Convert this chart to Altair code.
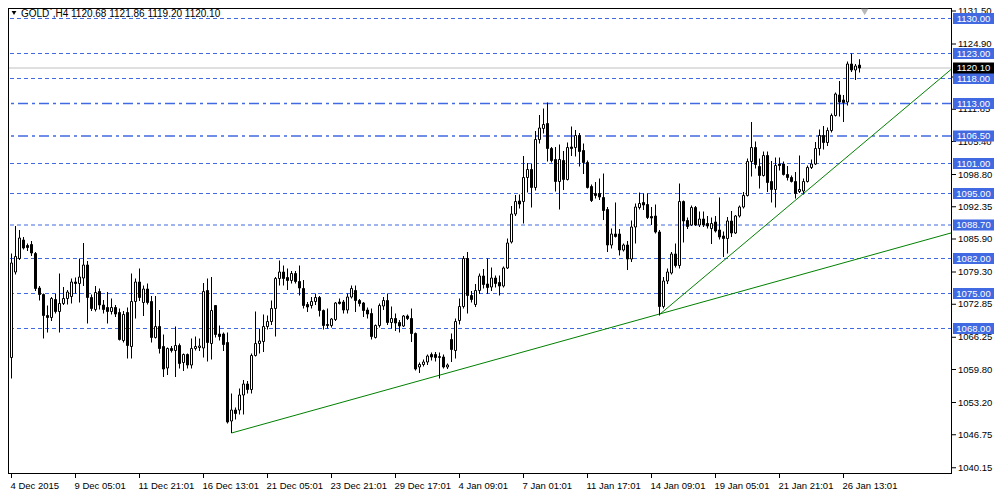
import altair as alt
import pandas as pd

# ---------------- data ----------------
opens = [
    1062.2, 1079.3, 1082.0, 1085.7, 1084.6, 1084.8, 1083.0, 1076.1, 1074.8, 1070.6,
    1070.2, 1073.8, 1071.4, 1073.0, 1074.0, 1074.4, 1077.3, 1077.0, 1078.1, 1080.7,
    1074.2, 1071.8, 1075.4, 1072.7, 1072.2, 1071.4, 1072.2, 1071.2, 1065.6, 1071.2,
    1064.4, 1073.4, 1077.3, 1073.2, 1075.9, 1073.4, 1066.2, 1068.4, 1064.4, 1060.1,
    1064.0, 1063.6, 1064.6, 1061.2, 1062.8, 1060.7, 1064.0, 1064.2, 1064.1, 1075.6,
    1065.0, 1072.6, 1066.9, 1066.9, 1065.2, 1049.5, 1051.7, 1051.7, 1054.7, 1056.9,
    1055.8, 1062.6, 1065.0, 1065.4, 1068.4, 1069.4, 1072.0, 1078.0, 1079.3, 1078.2,
    1077.6, 1079.0, 1077.4, 1076.0, 1072.8, 1072.6, 1073.4, 1074.2, 1071.6, 1068.8,
    1068.6, 1069.8, 1073.3, 1073.3, 1071.7, 1074.3, 1075.6, 1073.6, 1073.1, 1071.7,
    1071.0, 1066.2, 1068.6, 1072.5, 1073.6, 1069.2, 1070.0, 1069.2, 1068.5, 1070.5,
    1070.0, 1067.0, 1060.3, 1060.8, 1061.3, 1062.8, 1062.8, 1062.2, 1062.3, 1060.3,
    1065.8, 1063.6, 1069.6, 1072.4, 1082.0, 1074.6, 1072.8, 1075.6, 1078.5, 1076.9,
    1076.3, 1078.1, 1077.2, 1076.5, 1080.1, 1085.3, 1090.9, 1093.5, 1093.4, 1098.2,
    1099.8, 1096.2, 1105.8, 1108.0, 1109.0, 1104.0, 1101.8, 1097.4, 1101.6, 1097.8,
    1104.3, 1104.2, 1106.6, 1103.6, 1101.2, 1096.4, 1095.0, 1095.0, 1094.2, 1091.8,
    1084.7, 1086.9, 1086.9, 1083.7, 1084.7, 1081.9, 1088.3, 1092.2, 1093.2, 1092.8,
    1090.4, 1090.5, 1087.3, 1072.4, 1077.5, 1079.1, 1082.9, 1080.6, 1093.4, 1089.6,
    1088.7, 1092.2, 1088.7, 1089.9, 1089.0, 1088.0, 1089.3, 1087.7, 1086.5, 1086.0,
    1089.5, 1087.1, 1090.5, 1092.3, 1094.6, 1101.4, 1104.2, 1100.4, 1098.6, 1102.6,
    1097.4, 1095.8, 1100.9, 1100.9, 1098.8, 1098.2, 1097.4, 1095.4, 1095.5, 1097.4,
    1100.2, 1100.9, 1104.0, 1106.6, 1105.2, 1107.6, 1110.6, 1114.7, 1113.7, 1113.3,
    1120.9, 1119.7, 1120.68,
]
highs = [
    1083.0, 1088.5, 1087.7, 1086.3, 1085.0, 1085.5, 1083.3, 1076.5, 1075.0, 1072.6,
    1074.3, 1074.9, 1079.0, 1076.3, 1075.7, 1078.0, 1078.2, 1082.0, 1085.1, 1081.5,
    1074.8, 1076.5, 1076.0, 1073.7, 1075.3, 1074.0, 1072.7, 1072.0, 1071.5, 1072.2,
    1079.0, 1078.0, 1080.0, 1076.6, 1077.0, 1074.5, 1074.5, 1071.7, 1066.8, 1064.2,
    1064.5, 1068.4, 1065.0, 1063.0, 1063.0, 1066.0, 1066.4, 1066.0, 1077.1, 1078.0,
    1078.3, 1072.7, 1068.6, 1067.2, 1067.2, 1055.0, 1052.2, 1056.0, 1057.7, 1057.5,
    1063.0, 1071.4, 1068.0, 1070.8, 1070.6, 1073.6, 1078.3, 1081.6, 1080.6, 1080.0,
    1079.5, 1079.5, 1080.6, 1077.7, 1073.3, 1074.3, 1075.0, 1074.5, 1071.8, 1072.0,
    1070.1, 1073.3, 1074.0, 1073.7, 1075.0, 1076.6, 1076.6, 1073.9, 1073.3, 1072.2,
    1072.0, 1068.8, 1073.0, 1074.3, 1075.0, 1072.4, 1071.0, 1069.7, 1070.7, 1070.8,
    1072.0, 1067.2, 1061.2, 1061.8, 1062.8, 1063.2, 1063.3, 1063.2, 1062.8, 1061.0,
    1067.0, 1070.0, 1074.0, 1082.5, 1083.3, 1075.5, 1076.9, 1079.0, 1079.9, 1082.0,
    1080.2, 1078.6, 1078.6, 1080.4, 1086.0, 1092.5, 1094.7, 1094.8, 1102.5, 1101.1,
    1100.9, 1107.5, 1110.7, 1112.0, 1113.2, 1104.3, 1104.3, 1104.8, 1103.5, 1105.2,
    1108.4, 1107.7, 1107.1, 1105.0, 1101.6, 1096.8, 1097.3, 1098.0, 1099.0, 1092.3,
    1088.0, 1093.2, 1087.9, 1085.0, 1085.5, 1089.6, 1093.0, 1095.2, 1095.0, 1095.0,
    1092.3, 1092.8, 1087.7, 1078.3, 1080.0, 1083.3, 1085.0, 1097.0, 1093.6, 1090.2,
    1092.6, 1092.5, 1091.4, 1091.4, 1090.5, 1090.2, 1090.5, 1094.2, 1087.4, 1090.3,
    1091.5, 1090.7, 1092.6, 1095.3, 1102.0, 1109.3, 1105.4, 1102.0, 1103.4, 1103.4,
    1101.5, 1102.2, 1102.2, 1101.4, 1100.5, 1098.6, 1099.3, 1102.6, 1098.0, 1100.6,
    1101.8, 1105.3, 1107.8, 1108.5, 1108.2, 1111.0, 1115.2, 1117.5, 1114.7, 1121.4,
    1123.0, 1120.9, 1121.86,
]
lows = [
    1058.0, 1078.8, 1081.7, 1083.8, 1083.5, 1082.5, 1075.5, 1073.6, 1066.0, 1067.2,
    1069.5, 1071.0, 1067.2, 1072.7, 1072.8, 1073.0, 1075.0, 1073.2, 1076.5, 1069.0,
    1071.5, 1071.4, 1071.8, 1071.0, 1069.0, 1070.8, 1070.3, 1065.6, 1065.2, 1062.0,
    1062.0, 1070.0, 1073.5, 1070.5, 1072.8, 1065.2, 1066.0, 1063.0, 1058.3, 1058.7,
    1063.2, 1058.3, 1060.0, 1059.5, 1060.0, 1060.0, 1063.6, 1063.5, 1062.2, 1061.4,
    1061.8, 1066.2, 1065.6, 1063.5, 1049.0, 1047.1, 1049.8, 1050.8, 1050.8, 1055.0,
    1055.0, 1062.4, 1063.0, 1063.3, 1067.8, 1068.7, 1066.4, 1076.6, 1076.6, 1075.7,
    1077.0, 1077.0, 1074.6, 1072.0, 1071.3, 1072.0, 1072.7, 1070.4, 1067.8, 1068.0,
    1068.2, 1069.5, 1072.8, 1071.0, 1071.0, 1074.0, 1071.3, 1072.4, 1070.3, 1070.0,
    1065.8, 1066.0, 1068.2, 1071.7, 1068.7, 1068.0, 1067.5, 1067.2, 1068.3, 1069.7,
    1065.3, 1059.6, 1059.1, 1060.4, 1060.7, 1061.6, 1061.4, 1058.0, 1060.0, 1059.9,
    1061.3, 1062.0, 1068.8, 1072.0, 1071.0, 1073.2, 1072.3, 1074.9, 1076.0, 1074.9,
    1075.5, 1076.2, 1074.6, 1076.2, 1079.9, 1085.0, 1090.5, 1092.0, 1089.0, 1095.2,
    1092.2, 1095.6, 1105.0, 1107.0, 1101.4, 1101.2, 1095.4, 1091.8, 1095.7, 1097.6,
    1102.5, 1102.4, 1100.4, 1098.9, 1096.0, 1093.3, 1094.0, 1093.7, 1089.7, 1083.3,
    1084.0, 1086.2, 1082.6, 1083.4, 1079.7, 1081.3, 1085.0, 1091.8, 1091.7, 1089.9,
    1088.7, 1087.0, 1070.6, 1072.0, 1076.9, 1078.8, 1080.2, 1080.0, 1085.2, 1087.9,
    1088.5, 1088.5, 1088.3, 1088.3, 1088.0, 1084.9, 1087.2, 1085.8, 1082.3, 1083.0,
    1086.3, 1086.9, 1090.2, 1092.0, 1094.4, 1098.4, 1100.0, 1096.0, 1098.4, 1095.3,
    1093.2, 1092.2, 1099.6, 1098.6, 1097.6, 1097.2, 1094.0, 1095.1, 1094.8, 1097.2,
    1099.9, 1100.7, 1102.6, 1103.8, 1104.5, 1107.2, 1110.4, 1110.4, 1109.3, 1112.6,
    1119.3, 1117.7, 1119.20,
]
closes = [
    1081.1, 1082.4, 1086.1, 1084.1, 1084.2, 1083.1, 1076.0, 1074.8, 1070.6, 1070.2,
    1074.0, 1071.4, 1073.0, 1074.0, 1075.3, 1077.3, 1077.0, 1078.3, 1080.7, 1074.2,
    1072.0, 1075.2, 1072.7, 1071.8, 1071.4, 1072.2, 1070.9, 1065.8, 1070.8, 1064.6,
    1073.4, 1077.3, 1074.2, 1075.9, 1073.2, 1066.2, 1068.4, 1064.0, 1059.9, 1064.0,
    1063.6, 1064.6, 1061.0, 1062.8, 1060.7, 1064.0, 1064.4, 1064.5, 1075.4, 1065.2,
    1071.6, 1066.8, 1066.4, 1064.8, 1049.3, 1051.7, 1051.0, 1054.7, 1056.9, 1055.8,
    1062.6, 1065.0, 1065.5, 1068.4, 1069.4, 1072.0, 1078.0, 1079.3, 1078.0, 1077.6,
    1079.0, 1077.4, 1076.1, 1072.6, 1072.3, 1073.4, 1074.2, 1071.6, 1068.6, 1068.6,
    1069.9, 1073.1, 1073.0, 1071.7, 1074.3, 1076.0, 1073.6, 1073.0, 1071.6, 1070.9,
    1066.4, 1068.6, 1072.6, 1073.6, 1069.2, 1070.0, 1069.1, 1068.5, 1070.5, 1070.0,
    1067.0, 1059.9, 1060.8, 1061.3, 1062.5, 1062.3, 1062.2, 1062.4, 1060.3, 1060.7,
    1063.8, 1069.4, 1072.4, 1082.0, 1074.6, 1073.8, 1075.6, 1078.5, 1076.8, 1076.2,
    1078.1, 1077.0, 1076.5, 1080.1, 1085.1, 1090.9, 1093.4, 1092.9, 1098.2, 1099.8,
    1096.2, 1105.8, 1108.1, 1108.8, 1104.0, 1101.6, 1097.4, 1101.8, 1097.8, 1104.2,
    1104.0, 1106.6, 1103.4, 1101.2, 1096.2, 1093.6, 1094.6, 1094.3, 1091.6, 1084.7,
    1086.9, 1086.4, 1083.7, 1084.7, 1081.9, 1088.3, 1092.3, 1093.0, 1092.7, 1090.2,
    1090.1, 1087.3, 1072.4, 1077.5, 1079.3, 1082.9, 1080.6, 1093.4, 1089.5, 1088.4,
    1092.2, 1088.7, 1089.9, 1088.7, 1088.5, 1089.0, 1087.5, 1086.3, 1086.0, 1089.5,
    1087.1, 1090.5, 1092.3, 1094.6, 1101.4, 1104.2, 1100.8, 1098.6, 1102.6, 1097.2,
    1095.8, 1100.6, 1100.6, 1098.8, 1098.2, 1097.4, 1095.0, 1095.8, 1097.4, 1100.2,
    1100.9, 1104.0, 1106.6, 1105.2, 1107.6, 1110.6, 1114.9, 1113.3, 1113.2, 1120.9,
    1119.7, 1120.5, 1120.10,
]

dashed_levels = [1130.00, 1123.00, 1118.00, 1101.00, 1095.00, 1088.70, 1082.00, 1075.00, 1068.00]
dashdot_levels = [1113.00, 1106.50]
current_price = 1120.10
price_ticks = [1131.50, 1124.90, 1118.30, 1111.85, 1105.40, 1098.80, 1092.35,
               1085.90, 1079.30, 1072.85, 1066.25, 1059.80, 1053.20, 1046.75, 1040.15]
date_bars = [0, 16, 32, 48, 64, 80, 96, 112, 128, 144, 160, 176, 192, 208]
date_labels = ["4 Dec 2015", "9 Dec 05:01", "11 Dec 21:01", "16 Dec 13:01", "21 Dec 05:01",
               "23 Dec 21:01", "29 Dec 17:01", "4 Jan 09:01", "7 Jan 01:01", "11 Jan 17:01",
               "14 Jan 09:01", "19 Jan 05:01", "21 Jan 21:01", "26 Jan 13:01"]
trend_ids = ["a", "a", "b", "b"]
trend_bars = [55, 238, 162, 238]
trend_prices = [1047.1, 1087.8, 1070.8, 1121.9]
title_text = "GOLD`,H4  1120.68 1121.86 1119.20 1120.10"
shift_marker_bar = [213.3]

# ---------------- chart ----------------
W, H = 944, 466
FONT = "Liberation Sans"
FS = 9.5
BLUE = "#4169e1"

xs = alt.Scale(domain=[-0.875, 235.125], nice=False, zero=False)
ys = alt.Scale(domain=[1038.9, 1132.1], nice=False, zero=False)


def X(f):
    return alt.X(f, scale=xs, axis=None)


def Y(f):
    return alt.Y(f, scale=ys, axis=None)


candles = pd.DataFrame({"bar": list(range(len(opens))), "open": opens, "high": highs,
                        "low": lows, "close": closes})
candles["fillc"] = ["white" if c >= o else "black" for o, c in zip(opens, closes)]

one = pd.DataFrame({"k": [0]})

dash_df = pd.DataFrame({"level": dashed_levels})
dd_df = pd.DataFrame({"level": dashdot_levels})
cur_df = pd.DataFrame({"level": [current_price], "t": [f"{current_price:.2f}"]})
all_levels = dashed_levels + dashdot_levels
lab_df = pd.DataFrame({"level": all_levels, "t": [f"{v:.2f}" for v in all_levels]})
tick_df = pd.DataFrame({"p": price_ticks, "t": [f"{v:.2f}" for v in price_ticks]})
date_df = pd.DataFrame({"bar": date_bars, "t": date_labels})
trend_df = pd.DataFrame({"line": trend_ids, "bar": trend_bars, "price": trend_prices})
title_df = pd.DataFrame({"t": [title_text]})
shift_df = pd.DataFrame({"bar": shift_marker_bar})

hl_dash = alt.Chart(dash_df).mark_rule(color=BLUE, strokeWidth=1, strokeDash=[4, 3]).encode(
    y=Y("level:Q"))
hl_dd = alt.Chart(dd_df).mark_rule(color=BLUE, strokeWidth=1.3, strokeDash=[10, 4, 3, 4]).encode(
    y=Y("level:Q"))
cur_line = alt.Chart(cur_df).mark_rule(color="#c0c0c0", strokeWidth=1).encode(y=Y("level:Q"))

trend = alt.Chart(trend_df).mark_line(color="#008000", strokeWidth=1, clip=True).encode(
    x=X("bar:Q"), y=Y("price:Q"), detail="line:N")

wicks = alt.Chart(candles).mark_rule(color="black", strokeWidth=1).encode(
    x=X("bar:Q"), y=Y("low:Q"), y2="high:Q")

bodies = alt.Chart(candles).transform_calculate(
    left="datum.bar - 0.25", right="datum.bar + 0.25"
).mark_rect(stroke="black", strokeWidth=1).encode(
    x=X("left:Q"), x2="right:Q", y=Y("open:Q"), y2="close:Q",
    fill=alt.Fill("fillc:N", scale=None))

frame_l = alt.Chart(one).mark_rule(color="black").encode(
    x=alt.value(0.5), y=alt.value(0), y2=alt.value(H))
frame_r = alt.Chart(one).mark_rule(color="black").encode(
    x=alt.value(W - 0.5), y=alt.value(0), y2=alt.value(H))
frame_t = alt.Chart(one).mark_rule(color="black").encode(
    y=alt.value(0.5), x=alt.value(0), x2=alt.value(W))
frame_b = alt.Chart(one).mark_rule(color="black").encode(
    y=alt.value(H - 0.5), x=alt.value(0), x2=alt.value(W))

ptick = alt.Chart(tick_df).mark_rule(color="black").encode(
    y=Y("p:Q"), x=alt.value(W), x2=alt.value(W + 4))
ptext = alt.Chart(tick_df).mark_text(align="left", baseline="middle", font=FONT,
                                     fontSize=FS, color="black").encode(
    y=Y("p:Q"), x=alt.value(W + 6), text="t:N")

boxes = alt.Chart(lab_df).mark_rect(color=BLUE, yOffset=-5.5, y2Offset=5.5).encode(
    y=Y("level:Q"), y2="level:Q", x=alt.value(W + 1), x2=alt.value(W + 42))
box_text = alt.Chart(lab_df).mark_text(align="center", baseline="middle", font=FONT,
                                       fontSize=FS, color="white").encode(
    y=Y("level:Q"), x=alt.value(W + 21.5), text="t:N")

cur_box = alt.Chart(cur_df).mark_rect(color="black", yOffset=-5.5, y2Offset=5.5).encode(
    y=Y("level:Q"), y2="level:Q", x=alt.value(W + 1), x2=alt.value(W + 42))
cur_text = alt.Chart(cur_df).mark_text(align="center", baseline="middle", font=FONT,
                                       fontSize=FS, color="white").encode(
    y=Y("level:Q"), x=alt.value(W + 21.5), text="t:N")

dtick = alt.Chart(date_df).mark_rule(color="black").encode(
    x=X("bar:Q"), y=alt.value(H), y2=alt.value(H + 4))
dtext = alt.Chart(date_df).mark_text(align="left", baseline="middle", font=FONT,
                                     fontSize=FS, color="black", dx=-1).encode(
    x=X("bar:Q"), y=alt.value(H + 12), text="t:N")

title_tri = alt.Chart(one).mark_point(shape="triangle-down", filled=True, color="black",
                                      size=22, opacity=1).encode(
    x=alt.value(6), y=alt.value(5))
title = alt.Chart(title_df).mark_text(align="left", baseline="middle", font=FONT,
                                      fontSize=10, color="black").encode(
    x=alt.value(13), y=alt.value(5.5), text="t:N")

shift_mark = alt.Chart(shift_df).mark_point(shape="triangle-down", filled=True,
                                            color="#b8b8b8", size=55, opacity=1).encode(
    x=X("bar:Q"), y=alt.value(4))

chart = alt.layer(
    hl_dash, hl_dd, cur_line, trend, wicks, bodies,
    frame_l, frame_r, frame_t, frame_b,
    ptick, ptext, boxes, box_text, cur_box, cur_text,
    dtick, dtext, title_tri, title, shift_mark,
).properties(
    width=W, height=H,
    autosize=alt.AutoSizeParams(type="none"),
    padding={"left": 0, "top": 0, "right": 42, "bottom": 16},
    background="white",
).configure_view(strokeOpacity=0)

chart.save("out.html", embed_options={"renderer": "svg", "actions": False})
